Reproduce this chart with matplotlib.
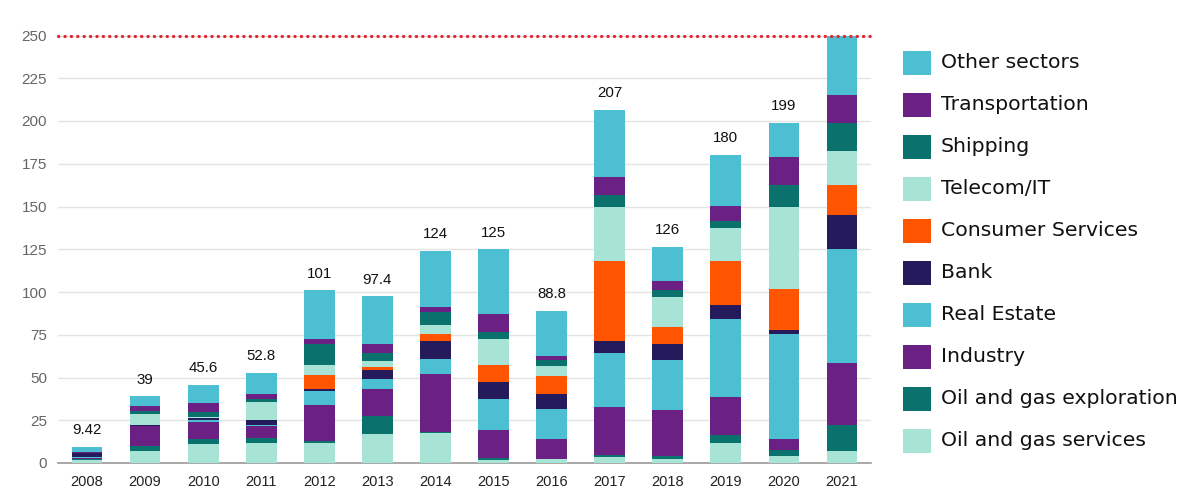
import matplotlib
matplotlib.use("Agg")
import matplotlib.pyplot as plt
import numpy as np
from matplotlib.patches import Rectangle

plt.rcParams['font.family'] = ['Liberation Sans', 'DejaVu Sans']

years = ["2008", "2009", "2010", "2011", "2012", "2013", "2014",
         "2015", "2016", "2017", "2018", "2019", "2020", "2021"]

oil_gas_services = [1.5, 7.3, 11.1, 11.8, 11.5, 17.0, 17.6, 1.8, 2.5, 3.5, 2.1, 11.7, 3.9, 7.0]
oil_gas_exploration = [0.8, 2.9, 3.2, 2.9, 1.2, 10.5, 0.8, 0.9, 0.0, 1.2, 1.8, 4.7, 3.9, 15.1]
industry = [0.4, 11.4, 9.8, 6.7, 21.5, 15.7, 33.9, 16.8, 11.8, 28.1, 27.0, 22.3, 6.3, 36.6]
real_estate = [0.6, 0.0, 1.2, 1.1, 7.8, 6.0, 8.8, 18.0, 17.3, 31.3, 29.1, 45.3, 61.1, 66.4]
bank = [2.6, 0.9, 0.8, 2.8, 1.4, 5.1, 10.2, 9.8, 9.0, 7.4, 9.5, 8.2, 2.5, 19.9]
consumer_services = [0.0, 0.0, 0.0, 0.0, 8.2, 2.1, 4.1, 10.3, 10.2, 46.9, 10.2, 25.8, 24.1, 17.6]
telecom_it = [0.0, 5.9, 1.0, 10.6, 5.8, 3.0, 5.3, 14.9, 6.0, 31.2, 17.2, 19.3, 47.8, 19.9]
shipping = [0.0, 1.8, 2.5, 1.6, 12.3, 4.9, 7.4, 3.9, 3.4, 7.4, 4.3, 4.1, 12.9, 16.6]
transportation = [0.3, 3.1, 5.3, 3.1, 2.6, 5.4, 2.9, 10.5, 2.3, 10.2, 5.2, 9.0, 16.4, 16.0]
other_sectors = [3.2, 5.7, 10.7, 12.2, 28.7, 27.7, 33.2, 38.1, 26.3, 39.4, 19.8, 29.7, 19.9, 34.9]

total_labels = ["9.42", "39", "45.6", "52.8", "101", "97.4", "124",
                "125", "88.8", "207", "126", "180", "199", ""]

threshold = 250

CYAN = "#4cbfd3"
PURPLE = "#6a2183"
TEAL = "#0b716d"
MINT = "#a8e4d6"
ORANGE = "#ff5500"
NAVY = "#241a5c"

series = [
    ("Oil and gas services", oil_gas_services, MINT),
    ("Oil and gas exploration", oil_gas_exploration, TEAL),
    ("Industry", industry, PURPLE),
    ("Real Estate", real_estate, CYAN),
    ("Bank", bank, NAVY),
    ("Consumer Services", consumer_services, ORANGE),
    ("Telecom/IT", telecom_it, MINT),
    ("Shipping", shipping, TEAL),
    ("Transportation", transportation, PURPLE),
    ("Other sectors", other_sectors, CYAN),
]

fig = plt.figure(figsize=(12, 4.99), dpi=100)
ax = fig.add_axes([58 / 1200, 36 / 499, 813 / 1200, 427.5 / 499])

x = np.arange(len(years))
bottom = np.zeros(len(years))
for name, vals, col in series:
    v = np.array(vals, dtype=float)
    ax.bar(x, v, width=0.53, bottom=bottom, color=col, linewidth=0, zorder=3)
    bottom += v

for xi, top, lab in zip(x, bottom, total_labels):
    if lab:
        ax.annotate(lab, (xi, top), xytext=(0, 7), textcoords="offset points",
                    ha="center", va="bottom", fontsize=10.8, color="#111111")

ax.axhline(threshold, color="#e3262f", linewidth=2.3, linestyle=(0, (0.1, 1.9)),
           dash_capstyle="round", zorder=5, clip_on=False)

ax.set_xlim(-0.5, len(years) - 0.5)
ax.set_ylim(0, 250)
ax.set_yticks(np.arange(0, 251, 25))
ax.set_xticks(x)
ax.set_xticklabels(years)
ax.grid(axis="y", color="#e4e4e4", linewidth=1, zorder=0)
for s in ["top", "right", "left"]:
    ax.spines[s].set_visible(False)
ax.spines["bottom"].set_color("#9a9a9a")
ax.spines["bottom"].set_linewidth(1.2)
ax.tick_params(axis="both", length=0)
ax.tick_params(axis="y", labelsize=11, labelcolor="#666666", pad=8)
ax.tick_params(axis="x", labelsize=10.5, labelcolor="#222222", pad=9)

# legend (top to bottom: reverse of stack order)
row_y0 = 62.7
row_dy = 42.0
for i, (name, vals, col) in enumerate(series[::-1]):
    yc = row_y0 + i * row_dy
    fig.patches.append(Rectangle((903 / 1200, 1 - (yc + 12) / 499), 28 / 1200, 24 / 499,
                                 transform=fig.transFigure, facecolor=col,
                                 edgecolor="none", figure=fig))
    fig.text(941 / 1200, 1 - yc / 499, name, ha="left", va="center",
             fontsize=14.7, color="#111111", family=["DejaVu Sans"])

fig.savefig("out.png", dpi=100)
